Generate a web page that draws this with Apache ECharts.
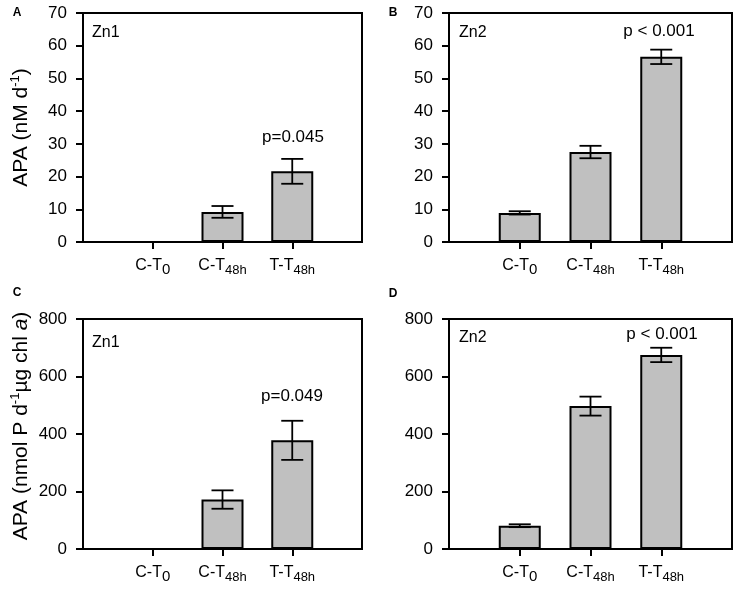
<!DOCTYPE html>
<html>
<head>
<meta charset="utf-8">
<script src="https://cdn.jsdelivr.net/npm/echarts@6/dist/echarts.min.js"></script>
<style>
  html, body { margin: 0; padding: 0; background: #fff; }
  #chart { width: 737px; height: 592px; }
</style>
</head>
<body>
<div id="chart"></div>
<script>
// categories on the x axis (main text + subscript)
var catMain = ['C-T', 'C-T', 'T-T'];
var catSub = ['0', '48h', '48h'];
var catPos = [1, 2, 3];

// APA per volume (nM d-1)
var zn1Rate = [null, 9.2, 21.6];
var zn1RateErr = [null, 1.8, 3.8];
var zn2Rate = [8.9, 27.5, 56.6];
var zn2RateErr = [0.5, 1.9, 2.2];

// APA per chl a (nmol P d-1 ug chl a)
var zn1Chl = [null, 172, 378];
var zn1ChlErr = [null, 32, 68];
var zn2Chl = [81, 497, 675];
var zn2ChlErr = [5, 33, 25];

var rateTicks = { max: 70, interval: 10 };
var chlTicks = { max: 800, interval: 200 };

var panelLetters = ['A', 'B', 'C', 'D'];
var stations = ['Zn1', 'Zn2', 'Zn1', 'Zn2'];
var pLabels = ['p=0.045', 'p < 0.001', 'p=0.049', 'p < 0.001'];

var FONT = "'Liberation Sans', Arial, sans-serif";
var LW = 2;

var grids = [
  { left: 83, top: 13, width: 279, height: 229 },
  { left: 449, top: 13, width: 283, height: 229 },
  { left: 83, top: 319, width: 279, height: 230 },
  { left: 449, top: 319, width: 283, height: 230 }
];

var panels = [
  { vals: zn1Rate, err: zn1RateErr, ticks: rateTicks },
  { vals: zn2Rate, err: zn2RateErr, ticks: rateTicks },
  { vals: zn1Chl, err: zn1ChlErr, ticks: chlTicks },
  { vals: zn2Chl, err: zn2ChlErr, ticks: chlTicks }
];

var yNames = [
  '{m|APA (nM d}{sup|-1}{m|)}',
  '',
  '{m|APA (nmol P d}{sup|-1}{m|µg chl }{it|a}{m|)}',
  ''
];

function errRender(params, api) {
  var x = api.value(0), m = api.value(1), e = api.value(2);
  var hi = api.coord([x, m + e]);
  var lo = api.coord([x, m - e]);
  var w = 11;
  var st = { stroke: '#000', lineWidth: 1.8 };
  return {
    type: 'group',
    children: [
      { type: 'line', shape: { x1: hi[0], y1: hi[1], x2: lo[0], y2: lo[1] }, style: st },
      { type: 'line', shape: { x1: hi[0] - w, y1: hi[1], x2: hi[0] + w, y2: hi[1] }, style: st },
      { type: 'line', shape: { x1: lo[0] - w, y1: lo[1], x2: lo[0] + w, y2: lo[1] }, style: st }
    ]
  };
}

var xAxes = [], yAxes = [], series = [];
panels.forEach(function (p, i) {
  xAxes.push({
    type: 'value', gridIndex: i, min: 0, max: 4, interval: 1,
    axisLine: { lineStyle: { color: '#000', width: LW } },
    axisTick: { show: true, customValues: catPos, length: 7, lineStyle: { color: '#000', width: LW } },
    splitLine: { show: false },
    axisLabel: {
      customValues: catPos,
      margin: 13,
      formatter: function (v) {
        var k = Math.round(v) - 1;
        if (k < 0 || k > 2) return '';
        return '{m|' + catMain[k] + '}{' + (catSub[k] === '0' ? 's0' : 's1') + '|' + catSub[k] + '}';
      },
      rich: {
        m: { fontSize: 16, fontFamily: FONT, color: '#000', lineHeight: 22, verticalAlign: 'middle' },
        s0: { fontSize: 15, fontFamily: FONT, color: '#000', lineHeight: 12, verticalAlign: 'bottom' },
        s1: { fontSize: 13, fontFamily: FONT, color: '#000', lineHeight: 9, verticalAlign: 'bottom' }
      }
    }
  });
  yAxes.push({
    type: 'value', gridIndex: i, min: 0, max: p.ticks.max, interval: p.ticks.interval,
    axisLine: { show: true, lineStyle: { color: '#000', width: LW } },
    axisTick: { show: true, length: 7, lineStyle: { color: '#000', width: LW } },
    splitLine: { show: false },
    axisLabel: { color: '#000', fontSize: 17, fontFamily: FONT, margin: 16 },
    name: yNames[i],
    nameLocation: 'middle',
    nameGap: 50,
    nameRotate: 90,
    nameTextStyle: {
      padding: i === 2 ? [0, 0, 0, 16] : 0,
      rich: {
        m: { fontSize: 21, fontFamily: FONT, color: '#000', lineHeight: 24 },
        it: { fontSize: 21, fontFamily: FONT, color: '#000', lineHeight: 24, fontStyle: 'italic' },
        sup: { fontSize: 13, fontFamily: FONT, color: '#000', lineHeight: 13, verticalAlign: 'top' }
      }
    }
  });
  var barData = [], errData = [];
  catPos.forEach(function (x, j) {
    if (p.vals[j] != null) {
      barData.push([x, p.vals[j]]);
      errData.push([x, p.vals[j], p.err[j]]);
    }
  });
  series.push({
    type: 'bar', xAxisIndex: i, yAxisIndex: i, data: barData, barWidth: 42,
    itemStyle: { color: '#c0c0c0', borderColor: '#000', borderWidth: LW },
    silent: true
  });
  series.push({
    type: 'custom', xAxisIndex: i, yAxisIndex: i, data: errData,
    renderItem: errRender, z: 5, silent: true
  });
});

var letterPos = [[17, 13], [393, 13], [17, 293], [393, 294]];
var stationPos = [[92, 33], [459, 33], [92, 343], [459, 338]];
var pPos = [[293, 137], [659, 31], [292, 396], [662, 334]];

var graphics = [];
panelLetters.forEach(function (t, i) {
  graphics.push({
    type: 'text', x: letterPos[i][0], y: letterPos[i][1],
    style: { text: t, fontSize: 12, fontWeight: 'bold', fontFamily: FONT, fill: '#000', textAlign: 'center', textVerticalAlign: 'middle' }
  });
  graphics.push({
    type: 'text', x: stationPos[i][0], y: stationPos[i][1],
    style: { text: stations[i], fontSize: 16, fontFamily: FONT, fill: '#000', textAlign: 'left', textVerticalAlign: 'middle' }
  });
  graphics.push({
    type: 'text', x: pPos[i][0], y: pPos[i][1],
    style: { text: pLabels[i], fontSize: 17, fontFamily: FONT, fill: '#000', textAlign: 'center', textVerticalAlign: 'middle' }
  });
});

var chart = echarts.init(document.getElementById('chart'), null, { renderer: 'canvas' });
chart.setOption({
  animation: false,
  backgroundColor: '#fff',
  grid: grids.map(function (g) {
    return { left: g.left, top: g.top, width: g.width, height: g.height, show: true, borderColor: '#000', borderWidth: LW, backgroundColor: 'transparent' };
  }),
  xAxis: xAxes,
  yAxis: yAxes,
  series: series,
  graphic: graphics
});
</script>
</body>
</html>
